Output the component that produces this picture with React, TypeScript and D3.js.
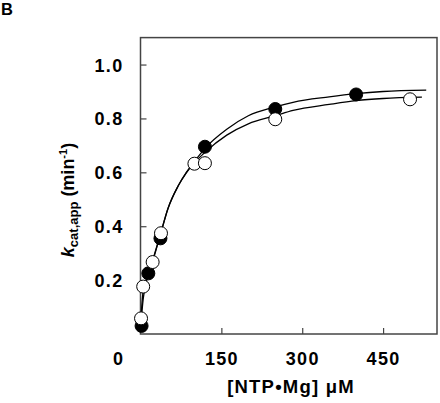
import React, { useEffect, useRef } from "react";
import * as d3 from "d3";

// measured points: [NTP•Mg] (µM) vs kcat,app (min-1)
const filledX = [2, 14.5, 37, 119.5, 250, 400];
const filledY = [0.03, 0.225, 0.355, 0.695, 0.835, 0.889];
const openX = [1, 5, 22.5, 38, 100, 119.5, 250, 500];
const openY = [0.058, 0.176, 0.267, 0.374, 0.632, 0.634, 0.797, 0.871];

// fitted curves
const fitFilledX = [0, 5, 15, 25, 37, 51, 70, 85, 100, 120, 160, 200, 250, 283, 350, 400, 450, 530];
const fitFilledY = [0.02, 0.13, 0.225, 0.29, 0.37, 0.466, 0.55, 0.6, 0.64, 0.69, 0.76, 0.81, 0.843, 0.86, 0.88, 0.892, 0.9, 0.905];
const fitOpenX = [0, 5, 15, 22, 37, 51, 70, 85, 100, 120, 160, 200, 250, 283, 350, 400, 450, 522];
const fitOpenY = [0.03, 0.16, 0.22, 0.265, 0.37, 0.466, 0.55, 0.598, 0.635, 0.675, 0.738, 0.78, 0.81, 0.83, 0.852, 0.866, 0.874, 0.879];

const xTicks = [150, 300, 450];
const yTicks = [0.2, 0.4, 0.6, 0.8, 1.0];

const W = 440;
const H = 403;
const FONT = "'Liberation Sans', Arial, Helvetica, sans-serif";

export default function App() {
  const ref = useRef<SVGSVGElement>(null);

  useEffect(() => {
    const svg = d3.select(ref.current);
    svg.selectAll("*").remove();

    const x = d3.scaleLinear().domain([0, 550]).range([140.5, 437]);
    const y = d3.scaleLinear().domain([0, 1.1]).range([334, 37.6]);

    // frame
    svg.append("rect")
      .attr("x", x(0)).attr("y", y(1.1))
      .attr("width", x(550) - x(0)).attr("height", y(0) - y(1.1))
      .attr("fill", "none").attr("stroke", "#444").attr("stroke-width", 1.5);

    // axes, ticks pointing inward
    const yAxis = svg.append("g").attr("transform", `translate(${x(0)},0)`)
      .call(d3.axisLeft(y).tickValues(yTicks).tickFormat(d3.format(".1f")).tickSizeInner(-6).tickSizeOuter(0).tickPadding(17));
    const xAxis = svg.append("g").attr("transform", `translate(0,${y(0)})`)
      .call(d3.axisBottom(x).tickValues(xTicks).tickFormat(d3.format("d")).tickSizeInner(-6).tickSizeOuter(0).tickPadding(18));
    [yAxis, xAxis].forEach(g => {
      g.select(".domain").remove();
      g.selectAll(".tick line").attr("stroke", "#444").attr("stroke-width", 1.2);
      g.selectAll(".tick text").attr("fill", "#000").style("font-family", FONT).style("font-size", "18px")
        .style("font-weight", "bold").style("letter-spacing", "1.3px");
    });
    yAxis.selectAll(".tick text").attr("dy", "0.36em");

    // shared origin label
    svg.append("text").attr("x", 118).attr("y", 365).attr("text-anchor", "middle")
      .style("font-family", FONT).style("font-size", "18px").style("font-weight", "bold").text("0");

    // fitted curves
    const line = d3.line<[number, number]>().x(d => x(d[0])).y(d => y(d[1])).curve(d3.curveMonotoneX);
    const fits = [d3.zip(fitFilledX, fitFilledY), d3.zip(fitOpenX, fitOpenY)] as [number, number][][];
    svg.selectAll(".fit").data(fits).join("path").attr("class", "fit")
      .attr("d", d => line(d)).attr("fill", "none").attr("stroke", "#000").attr("stroke-width", 1.3);

    // points
    svg.selectAll(".filled").data(d3.zip(filledX, filledY)).join("circle").attr("class", "filled")
      .attr("cx", d => x(d[0])).attr("cy", d => y(d[1])).attr("r", 6.5)
      .attr("fill", "#000").attr("stroke", "#000").attr("stroke-width", 1);
    svg.selectAll(".open").data(d3.zip(openX, openY)).join("circle").attr("class", "open")
      .attr("cx", d => x(d[0])).attr("cy", d => y(d[1])).attr("r", 6.5)
      .attr("fill", "#fff").attr("stroke", "#000").attr("stroke-width", 1);

    // axis titles
    svg.append("text").attr("x", 291).attr("y", 393).attr("text-anchor", "middle")
      .style("font-family", FONT).style("font-size", "18.5px").style("font-weight", "bold").style("letter-spacing", "1.2px")
      .text("[NTP\u2022Mg] \u03bcM");

    const yl = svg.append("text").attr("transform", "translate(74,200) rotate(-90)").attr("text-anchor", "middle")
      .style("font-family", FONT).style("font-size", "18px").style("font-weight", "bold");
    yl.append("tspan").style("font-style", "italic").text("k");
    yl.append("tspan").attr("dy", 4).style("font-size", "13px").text("cat,app");
    yl.append("tspan").attr("dy", -4).text(" (min");
    yl.append("tspan").attr("dy", -7).style("font-size", "11px").text("-1");
    yl.append("tspan").attr("dy", 7).text(")");

    svg.append("text").attr("x", 1).attr("y", 15)
      .style("font-family", FONT).style("font-size", "16.5px").style("font-weight", "bold").text("B");
  }, []);

  return (
    <svg ref={ref} width={W} height={H}
      style={{ position: "absolute", left: 0, top: 0, background: "#fff" }} />
  );
}
